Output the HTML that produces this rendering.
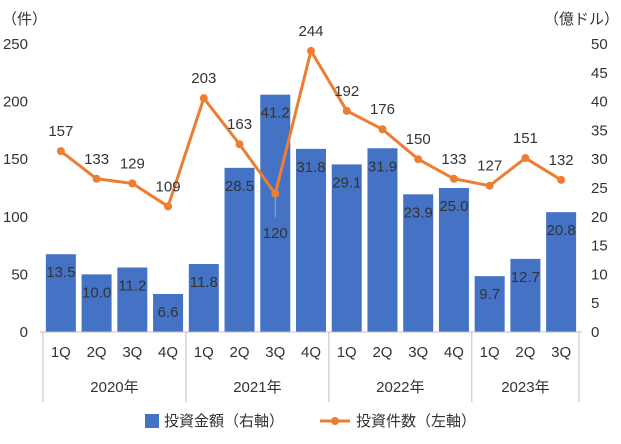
<!DOCTYPE html>
<html><head><meta charset="utf-8"><style>
body{margin:0;background:#fff;}
svg text{font-family:"Liberation Sans","Noto Sans CJK JP",sans-serif;fill:#333;}
</style></head><body>
<svg id="c" width="621" height="439"></svg>
<script>
const quarters=["1Q","2Q","3Q","4Q","1Q","2Q","3Q","4Q","1Q","2Q","3Q","4Q","1Q","2Q","3Q"];
const years=["2020年","2021年","2022年","2023年"];
const yearCounts=[4,4,4,3];
const amounts=[13.5,10.0,11.2,6.6,11.8,28.5,41.2,31.8,29.1,31.9,23.9,25.0,9.7,12.7,20.8];
const counts=[157,133,129,109,203,163,120,244,192,176,150,133,127,151,132];
const leftTicks=[0,50,100,150,200,250];
const rightTicks=[0,5,10,15,20,25,30,35,40,45,50];
const NS="http://www.w3.org/2000/svg";
const svg=document.getElementById('c');
const x0=43,x1=579,yTop=44,yBot=332;
const FS=15;
const step=(x1-x0)/quarters.length;
const xc=i=>x0+step*(i+0.5);
const yL=v=>yBot-(v/250)*(yBot-yTop);
const yR=v=>yBot-(v/50)*(yBot-yTop);
function mk(tag,attrs,txt){const e=document.createElementNS(NS,tag);for(const k in attrs)e.setAttribute(k,attrs[k]);if(txt!==undefined)e.textContent=txt;svg.appendChild(e);return e;}
let t;
t=mk('text',{x:2,y:24,'font-size':FS},'（件）');


t=mk('text',{x:619,y:24,'font-size':FS,'text-anchor':'end'},'（億ドル）');


leftTicks.forEach(v=>{const e=mk('text',{x:28,y:yL(v)+5,'font-size':FS,'text-anchor':'end'},v);

});
rightTicks.forEach(v=>{const e=mk('text',{x:591,y:yR(v)+5,'font-size':FS},v);

});
amounts.forEach((v,i)=>{const b=mk('rect',{x:xc(i)-15,y:yR(v),width:30,height:yBot-yR(v),fill:'#4472C4'});


const l=mk('text',{x:xc(i),y:yR(v)+23,'font-size':FS,'text-anchor':'middle'},v.toFixed(1));

});
let ax=mk('line',{x1:x0-3,x2:x1+3,y1:yBot,y2:yBot,stroke:'#bfbfbf'});


const pts=counts.map((v,i)=>xc(i)+','+yL(v)).join(' ');
let pl=mk('polyline',{points:pts,fill:'none',stroke:'#ED7D31','stroke-width':3,'stroke-linejoin':'round'});


counts.forEach((v,i)=>{const c=mk('circle',{cx:xc(i),cy:yL(v),r:4,fill:'#ED7D31'});


let below=(i===6);
if(below){const ln=mk('line',{x1:xc(i),x2:xc(i),y1:yL(v)+4,y2:yL(v)+24,stroke:'#a6a6a6'});

}
const l=mk('text',{x:xc(i),y:below?yL(v)+44:yL(v)-15,'font-size':FS,'text-anchor':'middle'},v);

});
quarters.forEach((q,i)=>{const e=mk('text',{x:xc(i),y:357,'font-size':FS,'text-anchor':'middle'},q);

});
let s=0;
const sep0=mk('line',{x1:x0,x2:x0,y1:yBot,y2:402,stroke:'#bfbfbf'});


years.forEach((y,k)=>{const a=x0+s*step;s+=yearCounts[k];const b=x0+s*step;
const e=mk('text',{x:(a+b)/2,y:392,'font-size':FS,'text-anchor':'middle'},y);


const ln=mk('line',{x1:b,x2:b,y1:yBot,y2:402,stroke:'#bfbfbf'});

});
let lb=mk('rect',{x:145,y:414,width:14,height:14,fill:'#4472C4'});


let lt=mk('text',{x:164,y:426,'font-size':FS},'投資金額（右軸）');


let ll=mk('line',{x1:320,x2:350,y1:421,y2:421,stroke:'#ED7D31','stroke-width':3});


let lc=mk('circle',{cx:335,cy:421,r:4,fill:'#ED7D31'});


let lt2=mk('text',{x:356,y:426,'font-size':FS},'投資件数（左軸）');


</script>
</body></html>
